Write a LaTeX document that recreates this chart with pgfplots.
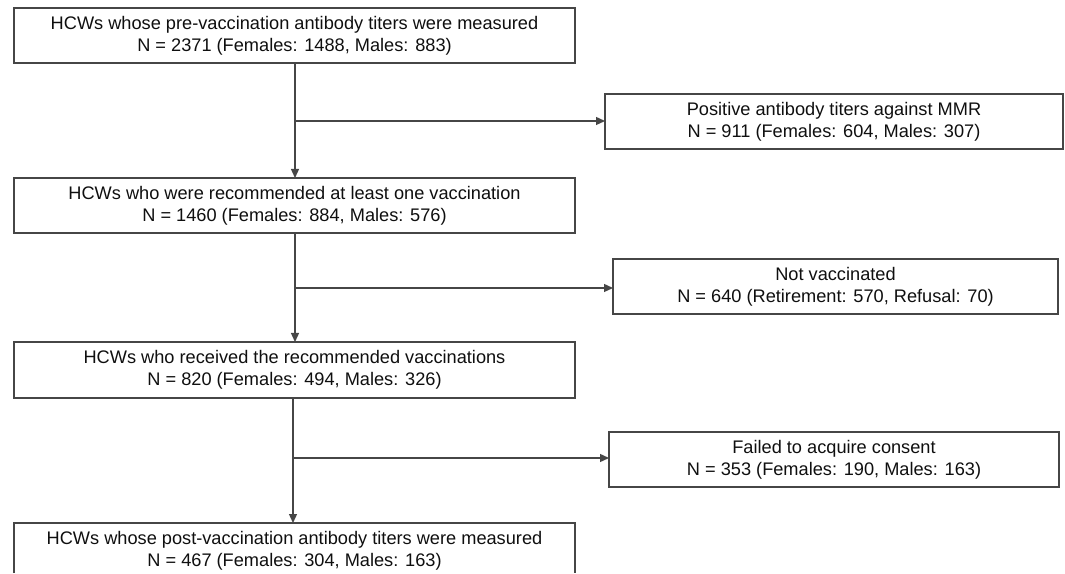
\documentclass[border=0pt]{standalone}
\usepackage{fontspec}
\setmainfont{Liberation Sans}
\usepackage{pgfplots}
\pgfplotsset{compat=1.18}
\usetikzlibrary{arrows.meta}
\definecolor{linec}{RGB}{70,70,70}
\definecolor{textc}{RGB}{15,15,15}
\begin{document}
\begin{tikzpicture}
\begin{axis}[
  width=532.5pt, height=286.5pt, scale only axis,
  xmin=0, xmax=1065, ymin=0, ymax=573, y dir=reverse,
  hide axis, clip=false,
]
\tikzset{bx/.style={draw=linec, line width=0.65pt},
         tx/.style={align=center, text=textc, font=\fontsize{9.1}{11}\selectfont, inner sep=0pt},
         ar/.style={draw=linec, line width=0.65pt, -{Triangle[length=4.5pt,width=4pt]}}}
\path (axis cs:0,0) rectangle (axis cs:1065,573);
% main boxes
\draw[bx] (axis cs:14,8) rectangle (axis cs:575,63);
\node[tx] at (axis cs:294.5,35.5) {HCWs whose pre-vaccination antibody titers were measured\\N = 2371 (Females: 1488, Males: 883)};
\draw[bx] (axis cs:14,178) rectangle (axis cs:575,233);
\node[tx] at (axis cs:294.5,205.5) {HCWs who were recommended at least one vaccination\\N = 1460 (Females: 884, Males: 576)};
\draw[bx] (axis cs:14,342) rectangle (axis cs:575,398);
\node[tx] at (axis cs:294.5,370) {HCWs who received the recommended vaccinations\\N = 820 (Females: 494, Males: 326)};
\draw[bx] (axis cs:14,573) -- (axis cs:14,523) -- (axis cs:575,523) -- (axis cs:575,573);
\node[tx] at (axis cs:294.5,551) {HCWs whose post-vaccination antibody titers were measured\\N = 467 (Females: 304, Males: 163)};
% side boxes
\draw[bx] (axis cs:605,94) rectangle (axis cs:1063,149);
\node[tx] at (axis cs:834,121.5) {Positive antibody titers against MMR\\N = 911 (Females: 604, Males: 307)};
\draw[bx] (axis cs:613,259) rectangle (axis cs:1058,314);
\node[tx] at (axis cs:835.5,286.5) {Not vaccinated\\N = 640 (Retirement: 570, Refusal: 70)};
\draw[bx] (axis cs:609,432) rectangle (axis cs:1059,487);
\node[tx] at (axis cs:834,459.5) {Failed to acquire consent\\N = 353 (Females: 190, Males: 163)};
% connectors
\draw[ar] (axis cs:295,63) -- (axis cs:295,178);
\draw[ar] (axis cs:295,121) -- (axis cs:605,121);
\draw[ar] (axis cs:295,233) -- (axis cs:295,342);
\draw[ar] (axis cs:295,288) -- (axis cs:613,288);
\draw[ar] (axis cs:293,398) -- (axis cs:293,523);
\draw[ar] (axis cs:293,458) -- (axis cs:609,458);
\end{axis}
\end{tikzpicture}
\end{document}
